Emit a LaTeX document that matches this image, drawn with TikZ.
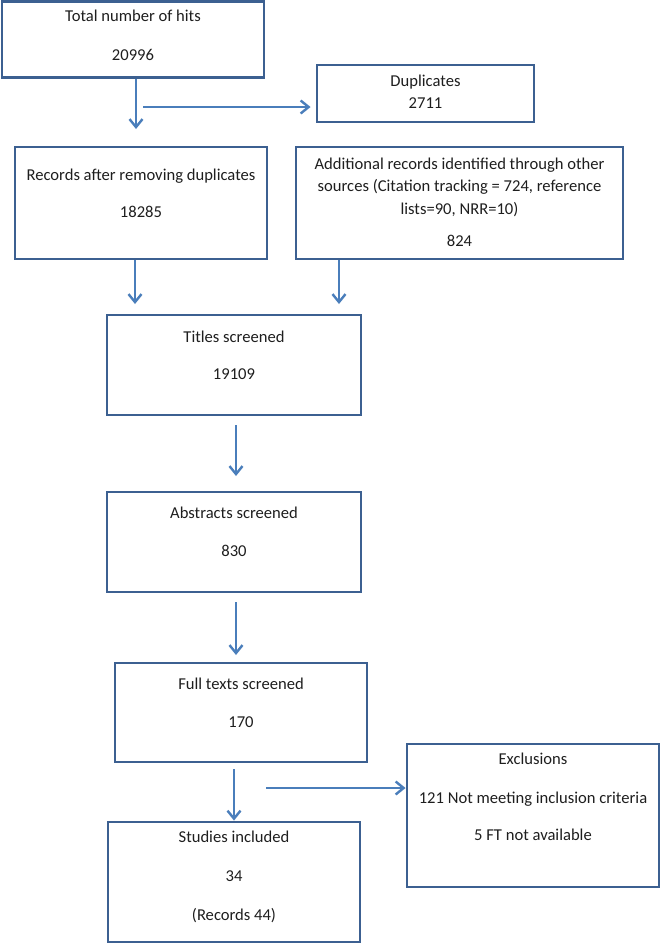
\documentclass[tikz,border=0pt]{standalone}
\usepackage{fontspec}
\setmainfont{Carlito}
\usetikzlibrary{arrows.meta,calc}
\definecolor{boxblue}{RGB}{60,96,145}
\definecolor{arrblue}{RGB}{74,126,187}
\definecolor{txt}{RGB}{30,30,30}
\tikzset{
  flowbox/.style={draw=boxblue,line width=2.9pt,rectangle,inner sep=0pt},
  lbl/.style={inner sep=0pt,text=txt,font=\fontsize{16.6}{19}\selectfont,text height=0.85em,text depth=0.1em},
  flowarrow/.style={draw=arrblue,line width=2.6pt,-{Straight Barb[length=8pt,width=13pt,line width=2.4pt]}},
}
\begin{document}
\begin{tikzpicture}[x=1pt,y=-1pt]
\useasboundingbox (0,0) rectangle (661,951);
% boxes
\node[flowbox,minimum width=262pt,minimum height=76pt] (hits) at (133,39.5) {};
\node[flowbox,minimum width=217pt,minimum height=57pt] (dup) at (425.5,93.5) {};
\node[flowbox,minimum width=252pt,minimum height=112pt] (rec) at (141,203) {};
\node[flowbox,minimum width=327pt,minimum height=112pt] (add) at (459.5,203) {};
\node[flowbox,minimum width=254pt,minimum height=100pt] (tit) at (234,365) {};
\node[flowbox,minimum width=254pt,minimum height=100pt] (abs) at (234,542) {};
\node[flowbox,minimum width=252pt,minimum height=99pt] (full) at (241,712.5) {};
\node[flowbox,minimum width=252pt,minimum height=143pt] (excl) at (533,815.5) {};
\node[flowbox,minimum width=252pt,minimum height=120pt] (stud) at (234,882) {};
% texts
\node[lbl] (t1a) at (133,18) {Total number of hits};
\node[lbl] (t1b) at (133,57) {20996};
\node[lbl] (t2a) at (425.5,83) {Duplicates};
\node[lbl] (t2b) at (425.5,105) {2711};
\node[lbl] (t3a) at (141,177) {Records after removing duplicates};
\node[lbl] (t3b) at (141,214) {18285};
\node[lbl] (t4a) at (459.5,166) {Additional records identified through other};
\node[lbl] (t4b) at (459.5,188) {sources (Citation tracking = 724, reference};
\node[lbl] (t4c) at (459.5,211) {lists=90, NRR=10)};
\node[lbl] (t4d) at (459.5,243) {824};
\node[lbl] (t5a) at (234,339) {Titles screened};
\node[lbl] (t5b) at (234,376) {19109};
\node[lbl] (t6a) at (234,515) {Abstracts screened};
\node[lbl] (t6b) at (234,553) {830};
\node[lbl] (t7a) at (241,686) {Full texts screened};
\node[lbl] (t7b) at (241,724) {170};
\node[lbl] (t8a) at (533,761) {Exclusions};
\node[lbl] (t8b) at (533,800) {121 Not meeting inclusion criteria};
\node[lbl] (t8c) at (533,837) {5 FT not available};
\node[lbl] (t9a) at (234,839) {Studies included};
\node[lbl] (t9b) at (234,878) {34};
\node[lbl] (t9c) at (234,917) {(Records 44)};
% connector end points
\coordinate (c1) at (136,129);
\coordinate (c2s) at (143,107);
\coordinate (c3) at (135,304);
\coordinate (c4) at (339,304);
\coordinate (c5s) at (236,425);
\coordinate (c5) at (236,476);
\coordinate (c6s) at (236,602);
\coordinate (c6) at (236,655);
\coordinate (c7s) at (234,769);
\coordinate (c8s) at (266,788);
% connectors
\draw[flowarrow] (hits.south -| c1) -- (c1);
\draw[flowarrow] (c2s) -- ($(dup.west|-c2s)+(-5,0)$);
\draw[flowarrow] (rec.south -| c3) -- (c3);
\draw[flowarrow] (add.south -| c4) -- (c4);
\draw[flowarrow] (c5s) -- (c5);
\draw[flowarrow] (c6s) -- (c6);
\draw[flowarrow] (c7s) -- (stud.north -| c7s);
\draw[flowarrow] (c8s) -- (excl.west |- c8s);
\end{tikzpicture}
\end{document}
